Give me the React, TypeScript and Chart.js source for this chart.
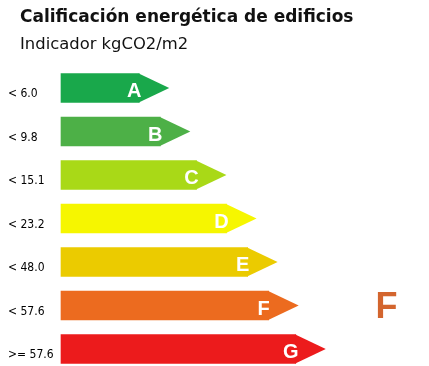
import { useEffect, useRef } from 'react';
import { Chart, registerables } from 'chart.js';

Chart.register(...registerables);

const titleText = 'Calificación energética de edificios';
const subtitleText = 'Indicador kgCO2/m2';
const grades = ['A', 'B', 'C', 'D', 'E', 'F', 'G'];
const thresholds = ['< 6.0', '< 9.8', '< 15.1', '< 23.2', '< 48.0', '< 57.6', '>= 57.6'];
const barLengths = [26, 33, 45, 55, 62, 69, 78];
const gradeColors = ['#19a84b', '#4db047', '#a9d917', '#f6f600', '#ebcb00', '#ec6b1f', '#ec1b1c'];
const currentGrade = 'F';
const currentGradeColor = '#d3652e';

const arrowPlugin = {
  id: 'energyArrows',
  afterDatasetsDraw(chart: any) {
    const ctx = chart.ctx;
    const meta = chart.getDatasetMeta(0);
    meta.data.forEach((bar: any, i: number) => {
      const { x, y, height } = bar.getProps(['x', 'y', 'height'], true);
      const tip = 30;
      ctx.save();
      ctx.fillStyle = gradeColors[i];
      ctx.beginPath();
      ctx.moveTo(x - 0.5, y - height / 2);
      ctx.lineTo(x + tip, y);
      ctx.lineTo(x - 0.5, y + height / 2);
      ctx.closePath();
      ctx.fill();
      ctx.fillStyle = '#ffffff';
      ctx.font = 'bold 20px "Liberation Sans", Arial, sans-serif';
      ctx.textAlign = 'center';
      ctx.textBaseline = 'alphabetic';
      ctx.fillText(grades[i], x - 5, y + 9);
      if (grades[i] === currentGrade) {
        ctx.fillStyle = currentGradeColor;
        ctx.font = 'bold 36px "Liberation Sans", Arial, sans-serif';
        ctx.fillText(grades[i], chart.chartArea.right + 24.5, y + 12);
      }
      ctx.restore();
    });
  },
  afterDraw(chart: any) {
    const ctx = chart.ctx;
    ctx.save();
    ctx.fillStyle = '#111111';
    ctx.textAlign = 'left';
    ctx.textBaseline = 'alphabetic';
    ctx.font = 'bold 17px "DejaVu Sans", Verdana, sans-serif';
    ctx.fillText(titleText, 20, 22);
    ctx.font = '16.4px "DejaVu Sans", Verdana, sans-serif';
    ctx.fillText(subtitleText, 20, 49);
    ctx.restore();
  },
};

export default function App() {
  const canvasRef = useRef<HTMLCanvasElement | null>(null);

  useEffect(() => {
    if (!canvasRef.current) return;
    const chart = new Chart(canvasRef.current, {
      type: 'bar',
      data: {
        labels: thresholds,
        datasets: [
          {
            data: barLengths,
            backgroundColor: gradeColors,
            borderWidth: 0,
            barThickness: 29,
            clip: false as any,
          },
        ],
      },
      options: {
        indexAxis: 'y',
        animation: false,
        responsive: false,
        maintainAspectRatio: false,
        layout: { padding: { top: 88, bottom: 17, left: 8, right: 67 } },
        plugins: {
          legend: { display: false },
          tooltip: { enabled: false },
          title: { display: false },
        },
        scales: {
          x: { display: false, min: 0, max: 100 },
          y: {
            offset: false,
            grid: { display: false },
            border: { display: false },
            afterFit(scale: any) {
              scale.width = 53;
            },
            ticks: {
              autoSkip: false,
              crossAlign: 'far',
              padding: 0,
              labelOffset: 6,
              color: '#000000',
              font: { family: '"DejaVu Sans Condensed", "DejaVu Sans", sans-serif', size: 12 },
            },
          },
        },
      },
      plugins: [arrowPlugin],
    });
    return () => chart.destroy();
  }, []);

  return (
    <div style={{ position: 'absolute', left: 0, top: 0, width: 429, height: 366, background: '#ffffff' }}>
      <canvas ref={canvasRef} width={429} height={366} />
    </div>
  );
}
